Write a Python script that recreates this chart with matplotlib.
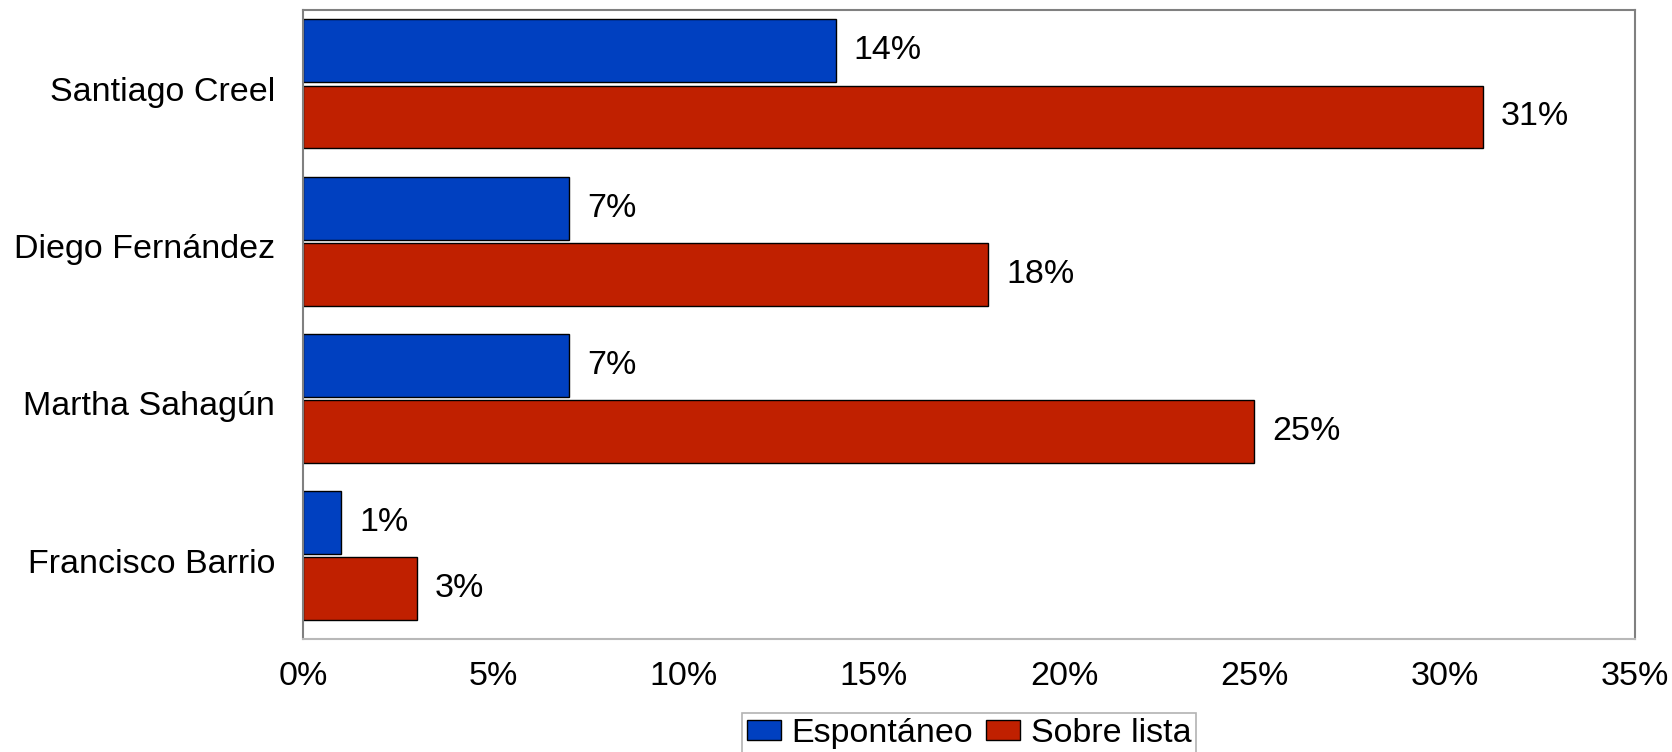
import matplotlib
matplotlib.use("Agg")
import matplotlib.pyplot as plt
import numpy as np

# Datos
candidatos = ["Santiago Creel", "Diego Fernández", "Martha Sahagún", "Francisco Barrio"]
espontaneo = [14, 7, 7, 1]
sobre_lista = [31, 18, 25, 3]
series = ["Espontáneo", "Sobre lista"]
colores = ["#0040C0", "#C02000"]
xticks = [0, 5, 10, 15, 20, 25, 30, 35]

plt.rcParams["font.family"] = ["Liberation Sans", "DejaVu Sans"]
fs = 24.5

fig = plt.figure(figsize=(16.72, 7.52), dpi=100)
ax = fig.add_axes([0.1812, 0.150, 0.7967, 0.8367])

y = np.arange(len(candidatos))
alto = 0.4
offsets = [-0.24, 0.18]

for valores, off, color, nombre in zip([espontaneo, sobre_lista], offsets, colores, series):
    barras = ax.barh(y + off, valores, height=alto, color=color, edgecolor="black",
                     linewidth=1.0, label=nombre)
    for b, v in zip(barras, valores):
        ax.annotate(f"{v}%", (b.get_width(), b.get_y() + b.get_height() / 2),
                    xytext=(18, 0), textcoords="offset pixels",
                    ha="left", va="center", fontsize=fs)

ax.set_xlim(0, 35)
ax.set_ylim(3.5, -0.5)
ax.set_xticks(xticks)
ax.set_xticklabels([f"{t}%" for t in xticks], fontsize=fs)
ax.set_yticks(y)
ax.set_yticklabels(candidatos, fontsize=fs)
ax.tick_params(axis="both", length=0)
ax.tick_params(axis="x", pad=16)
ax.tick_params(axis="y", pad=20)

for lado in ["top", "right", "left"]:
    ax.spines[lado].set_color("#808080")
ax.spines["bottom"].set_color("#b8b8b8")
for s in ax.spines.values():
    s.set_linewidth(1.5)

leg = ax.legend(loc="upper center", bbox_to_anchor=(0.5, -0.117), ncol=2, fontsize=fs,
                frameon=True, fancybox=False, handlelength=1.0, handleheight=0.55,
                handletextpad=0.3, columnspacing=0.4, borderpad=0.15, borderaxespad=0)
leg.get_frame().set_edgecolor("#a0a0a0")
leg.get_frame().set_linewidth(1.2)

fig.savefig("out.png", dpi=100)
